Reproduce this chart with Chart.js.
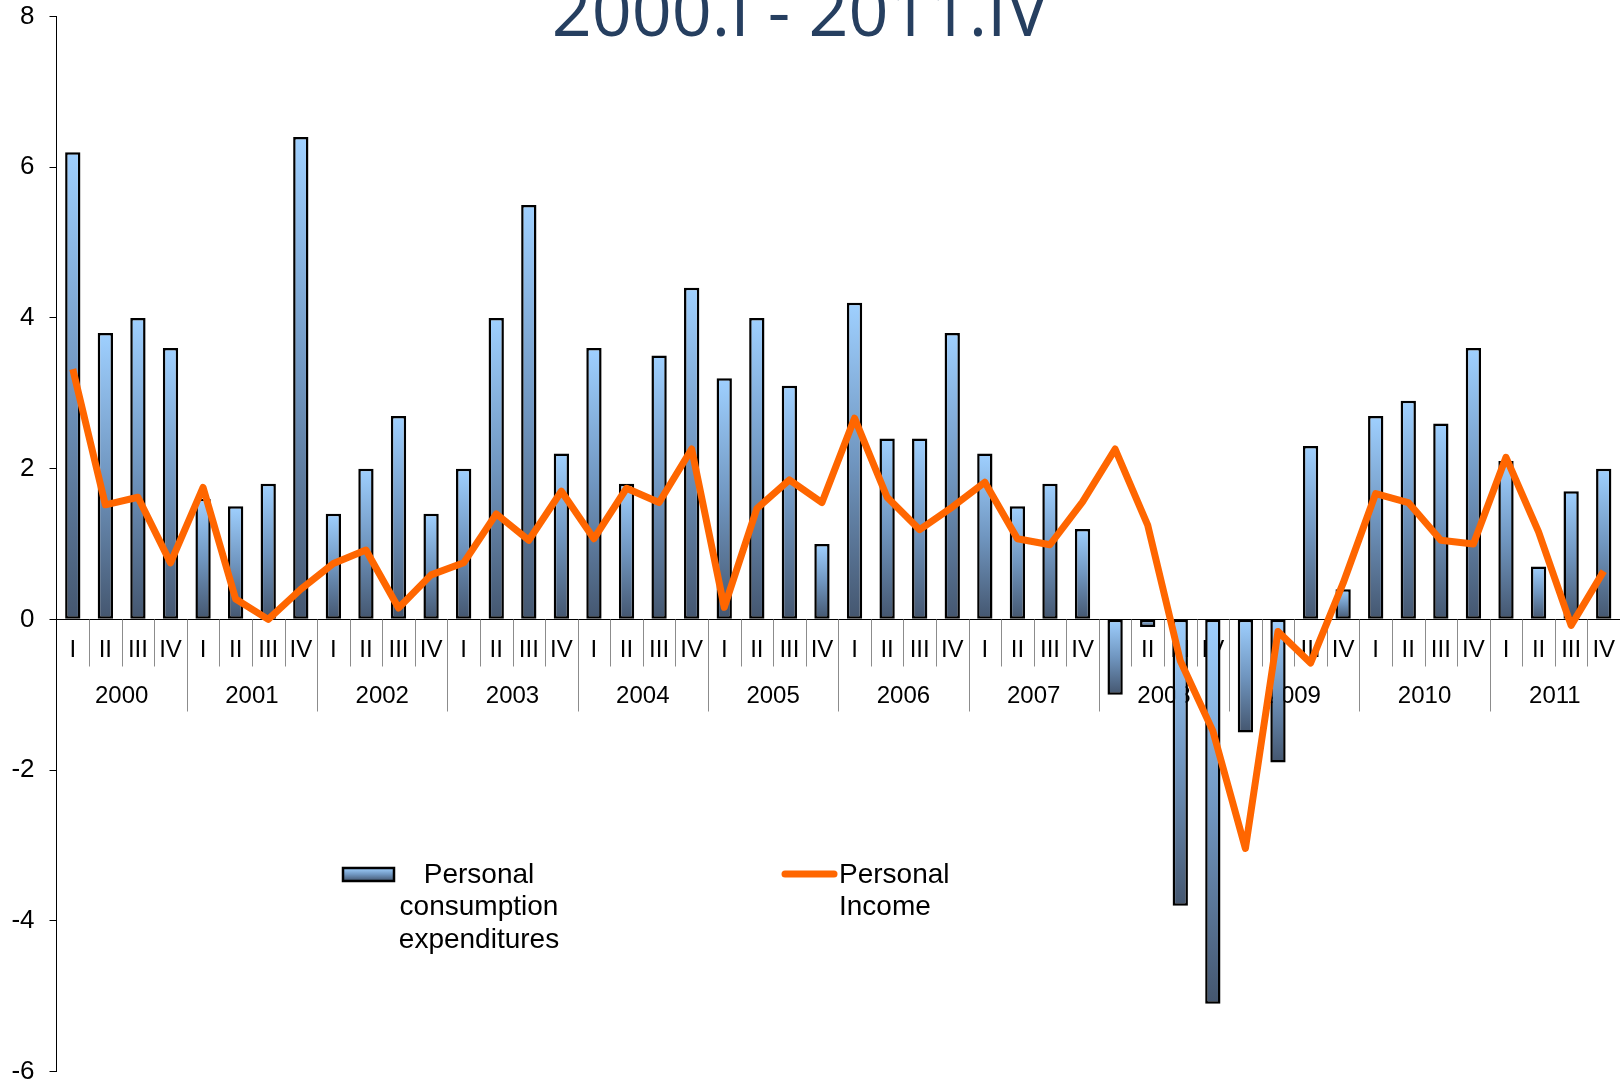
<!DOCTYPE html>
<html>
<head>
<meta charset="utf-8">
<script src="https://cdn.jsdelivr.net/npm/chart.js@4.4.1/dist/chart.umd.min.js"></script>
<style>
    html, body { margin: 0; padding: 0; background: #ffffff; }
    #wrap { width: 1620px; height: 1084px; position: relative; }
</style>
</head>
<body>
<div id="wrap"><canvas id="graphCanvas"></canvas></div>
<script>
const years = ['2000', '2001', '2002', '2003', '2004', '2005', '2006', '2007', '2008', '2009', '2010', '2011'];
const quarters = ['I', 'II', 'III', 'IV'];

// Personal consumption expenditures (bars)
const pceValues = [
    6.2, 3.8, 4.0, 3.6,
    1.6, 1.5, 1.8, 6.4,
    1.4, 2.0, 2.7, 1.4,
    2.0, 4.0, 5.5, 2.2,
    3.6, 1.8, 3.5, 4.4,
    3.2, 4.0, 3.1, 1.0,
    4.2, 2.4, 2.4, 3.8,
    2.2, 1.5, 1.8, 1.2,
    -1.0, -0.1, -3.8, -5.1,
    -1.5, -1.9, 2.3, 0.4,
    2.7, 2.9, 2.6, 3.6,
    2.1, 0.7, 1.7, 2.0
];

// Personal income (line)
const incomeValues = [
    3.32, 1.52, 1.62, 0.75,
    1.75, 0.27, 0.0, 0.4,
    0.74, 0.92, 0.15, 0.59,
    0.75, 1.4, 1.05, 1.7,
    1.07, 1.74, 1.55, 2.26,
    0.16, 1.47, 1.85, 1.55,
    2.67, 1.62, 1.19, 1.49,
    1.82, 1.07, 0.99, 1.56,
    2.26, 1.25, -0.55, -1.48,
    -3.04, -0.16, -0.58, 0.48,
    1.67, 1.55, 1.05, 1.0,
    2.15, 1.16, -0.08, 0.64
];

const titleText = '2000.I - 2011.IV';
const pceLabel = ['Personal', 'consumption', 'expenditures'];
const incomeLabel = ['Personal', 'Income'];

const labels = [];
years.forEach(y => quarters.forEach(q => labels.push(y + '.' + q)));

const ARIAL = '"Liberation Sans", Arial, sans-serif';

/**
 * @Function to build the light-to-dark gradient of one bar.
 */
function barGradient(ctx, top, bottom) {
    let g = ctx.createLinearGradient(0, top, 0, bottom);
    g.addColorStop(0, '#9fd0ff');
    g.addColorStop(0.5, '#7096c0');
    g.addColorStop(1, '#44566f');
    return g;
}

/**
 * @Function giving each bar its own vertical gradient.
 */
function barColor(context) {
    const chart = context.chart;
    if (!chart.chartArea || context.type !== 'data') {
        return '#7096c0';
    }
    const yScale = chart.scales.y;
    const v = context.raw;
    const top = yScale.getPixelForValue(Math.max(v, 0));
    const bottom = yScale.getPixelForValue(Math.min(v, 0));
    return barGradient(chart.ctx, top, bottom + 0.01);
}

// Zero line, quarter and year labels, drawn before the bars
const categoryLabels = {
    id: 'categoryLabels',
    beforeDatasetsDraw(chart) {
        const ctx = chart.ctx;
        const x = chart.scales.x;
        const y0 = Math.round(chart.scales.y.getPixelForValue(0)) + 0.5;
        const step = x.getPixelForValue(1) - x.getPixelForValue(0);
        ctx.save();
        ctx.strokeStyle = '#000000';
        ctx.lineWidth = 1;
        ctx.beginPath();
        ctx.moveTo(chart.chartArea.left, y0);
        ctx.lineTo(chart.chartArea.right, y0);
        ctx.stroke();

        ctx.fillStyle = '#000000';
        ctx.textAlign = 'center';
        ctx.textBaseline = 'middle';
        ctx.font = '24px ' + ARIAL;
        for (let i = 0; i < labels.length; i++) {
            let cx = x.getPixelForValue(i);
            ctx.fillText(quarters[i % 4], cx, y0 + 31);
        }
        for (let k = 0; k < years.length; k++) {
            let cx = (x.getPixelForValue(k * 4 + 1) + x.getPixelForValue(k * 4 + 2)) / 2;
            ctx.fillText(years[k], cx, y0 + 77);
        }
        ctx.strokeStyle = '#8c8c8c';
        for (let i = 1; i < labels.length; i++) {
            let bx = Math.round(x.getPixelForValue(i) - step / 2) + 0.5;
            ctx.beginPath();
            ctx.moveTo(bx, y0);
            ctx.lineTo(bx, y0 + (i % 4 === 0 ? 92 : 47));
            ctx.stroke();
        }
        ctx.restore();
    }
};

// Title (cut at the top) and the two-part legend
const decorations = {
    id: 'decorations',
    afterDraw(chart) {
        const ctx = chart.ctx;
        ctx.save();
        ctx.fillStyle = '#263f60';
        ctx.textAlign = 'center';
        ctx.textBaseline = 'alphabetic';
        ctx.font = '70px "Open Sans", sans-serif';
        ctx.fillText(titleText, 800, 36);

        // bar swatch
        ctx.fillStyle = barGradient(ctx, 868, 881);
        ctx.fillRect(343, 868, 51, 13);
        ctx.strokeStyle = '#000000';
        ctx.lineWidth = 2.5;
        ctx.strokeRect(343, 868, 51, 13);

        ctx.fillStyle = '#000000';
        ctx.font = '28px ' + ARIAL;
        ctx.textBaseline = 'middle';
        ctx.textAlign = 'center';
        pceLabel.forEach((t, i) => ctx.fillText(t, 479, 875 + i * 32.5));

        // line swatch
        ctx.strokeStyle = '#ff6600';
        ctx.lineWidth = 7;
        ctx.lineCap = 'round';
        ctx.beginPath();
        ctx.moveTo(785, 874);
        ctx.lineTo(834, 874);
        ctx.stroke();

        ctx.fillStyle = '#000000';
        ctx.textAlign = 'left';
        incomeLabel.forEach((t, i) => ctx.fillText(t, 839, 875 + i * 32.5));
        ctx.restore();
    }
};

const canvas = document.getElementById('graphCanvas');
const ctx = canvas.getContext('2d');

window.myChart = new Chart(ctx, {
    type: 'bar',
    data: {
        labels: labels,
        datasets: [{
            type: 'line',
            label: 'Personal Income',
            data: incomeValues,
            borderColor: '#ff6600',
            borderWidth: 7,
            pointRadius: 0,
            tension: 0,
            fill: false,
            borderJoinStyle: 'round',
            order: 0
        }, {
            type: 'bar',
            label: 'Personal consumption expenditures',
            data: pceValues,
            backgroundColor: barColor,
            borderColor: '#000000',
            borderWidth: 2.5,
            borderSkipped: false,
            barPercentage: 0.47,
            categoryPercentage: 1,
            order: 1
        }]
    },
    options: {
        responsive: true,
        maintainAspectRatio: false,
        animation: false,
        layout: {
            padding: { top: 16.5, bottom: 12.5, right: 0, left: 0 }
        },
        plugins: {
            legend: { display: false },
            tooltip: { enabled: false },
            title: { display: false }
        },
        scales: {
            x: {
                display: false,
                offset: true
            },
            y: {
                min: -6,
                max: 8,
                afterFit: (scale) => {
                    scale.width = 56.5;
                    scale.paddingTop = 0;
                    scale.paddingBottom = 0;
                },
                ticks: {
                    stepSize: 2,
                    padding: 15,
                    color: '#000000',
                    font: { family: ARIAL, size: 26 }
                },
                grid: {
                    drawOnChartArea: false,
                    drawTicks: true,
                    tickLength: 7,
                    color: '#000000'
                },
                border: { display: true, color: '#000000', width: 1 }
            }
        }
    },
    plugins: [categoryLabels, decorations]
});
</script>
</body>
</html>
